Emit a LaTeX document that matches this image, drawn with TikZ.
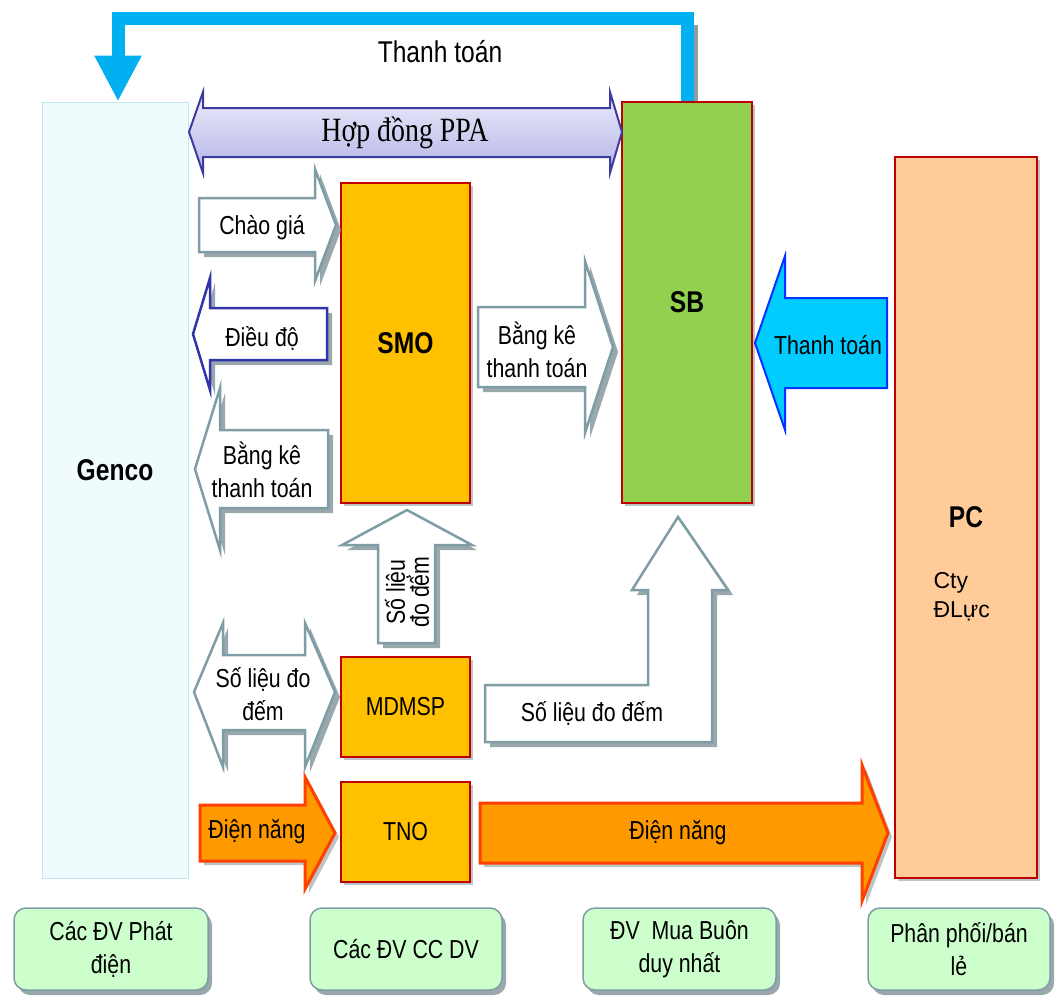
\documentclass[tikz,border=0pt]{standalone}
\usepackage{fontspec}
\setmainfont{Liberation Sans}
\newfontfamily\narrowfont[FakeStretch=0.82]{Liberation Sans}
\newfontfamily\ppafont[FakeStretch=0.82]{Liberation Serif}
\usetikzlibrary{arrows.meta,shadows}

\definecolor{boxred}{HTML}{C00000}
\definecolor{smoorange}{HTML}{FFC000}
\definecolor{sbgreen}{HTML}{92D050}
\definecolor{pcpeach}{HTML}{FFCC99}
\definecolor{gencofill}{HTML}{F0FBFD}
\definecolor{gencoline}{HTML}{C4E6EE}
\definecolor{slate}{HTML}{7F9DA5}
\definecolor{shadowgray}{HTML}{8E9EA4}
\definecolor{navy}{HTML}{3333AA}
\definecolor{payblue}{HTML}{00B0F0}
\definecolor{paycyan}{HTML}{00CCFF}
\definecolor{payedge}{HTML}{0033FF}
\definecolor{power}{HTML}{FF9900}
\definecolor{poweredge}{HTML}{FF4000}
\definecolor{unitgreen}{HTML}{CCFFCC}
\definecolor{ppalight}{HTML}{ECECFC}
\definecolor{ppadark}{HTML}{B4B4E6}
\definecolor{ppaedge}{HTML}{3C3CA0}

% block arrow lying flat: style, tail x, head base x, tip x, mid y, half body, half head
\newcommand{\hblock}[7]{%
  \path[#1] (#2,#5-#6) -- (#3,#5-#6) -- (#3,#5-#7) -- (#4,#5)
    -- (#3,#5+#7) -- (#3,#5+#6) -- (#2,#5+#6) -- cycle;}

\newcommand{\lbl}{\narrowfont\fontsize{26}{33}\selectfont}
\newcommand{\boldlbl}{\narrowfont\bfseries\fontsize{30}{34}\selectfont}

\tikzset{
  box/.style={draw=boxred, line width=1.5, inner sep=0,
    drop shadow={shadow xshift=3pt, shadow yshift=-3pt, fill=shadowgray, opacity=.6}},
  unit/.style={draw=slate, fill=unitgreen, line width=1.5, rounded corners=12,
    minimum height=82, align=center, inner sep=0, font=\lbl,
    drop shadow={shadow xshift=4pt, shadow yshift=-5pt, fill=shadowgray, opacity=.9}},
  grayarrow/.style={draw=slate, fill=white, line width=2.5, line join=miter,
    drop shadow={shadow xshift=5pt, shadow yshift=-5pt, fill=shadowgray, opacity=.9}},
  poweralong/.style={draw=poweredge, fill=power, line width=3,
    drop shadow={shadow xshift=4pt, shadow yshift=-4pt, fill=shadowgray, opacity=.6}},
  loopline/.style={draw=payblue, line width=13,
    -{Triangle[width=44pt, length=46pt]}},
}

\begin{document}
\begin{tikzpicture}[x=1pt, y=-1pt]
  \useasboundingbox (0,0) rectangle (1063,1004);

  % main boxes
  \node[draw=gencoline, fill=gencofill, line width=1, minimum width=146, minimum height=776] (genco) at (115,490) {};
  \node[box, fill=smoorange, minimum width=129, minimum height=320, font=\boldlbl] (smo) at (405.5,343) {SMO};
  \node[box, fill=sbgreen, minimum width=130, minimum height=401, font=\boldlbl] (sb) at (687,302.5) {SB};
  \node[box, fill=pcpeach, minimum width=142, minimum height=721, font=\boldlbl] (pc) at (966,517.5) {PC};
  \node[box, fill=smoorange, minimum width=129, minimum height=100, font=\lbl] (mdmsp) at (405.5,707) {MDMSP};
  \node[box, fill=smoorange, minimum width=129, minimum height=100, font=\lbl] (tno) at (405.5,832) {TNO};
  \node[font=\boldlbl] (gencolbl) at ([yshift=20]genco.center) {Genco};
  \node[font=\fontsize{23}{29}\selectfont, align=left, anchor=west] (cty) at (930,597) {Cty\\ĐLực};

  % payment loop SB -> Genco
  \draw[draw=shadowgray, line width=4] ([xshift=9]sb.north) -- ++(0,-76);
  \draw[loopline] (sb.north) -- ++(0,-83) -| ([xshift=3]genco.north);
  \node[font=\narrowfont\fontsize{30}{34}\selectfont] (paytop) at (440,52) {Thanh toán};

  % PPA contract
  \path[draw=ppaedge, line width=2, top color=ppalight, bottom color=ppadark]
    (189,132) -- (203,92) -- (203,108) -- (610,108) -- (610,92) -- (622,132)
    -- (610,173) -- (610,157) -- (203,157) -- (203,173) -- cycle;
  \node[font=\ppafont\fontsize{34}{40}\selectfont] (ppa) at (405,133) {Hợp đồng PPA};

  % Genco <-> SMO
  \hblock{grayarrow}{199}{315}{336}{225}{27}{56}
  \node[font=\lbl] (bid) at (262,228) {Chào giá};
  \hblock{grayarrow, draw=navy}{327}{210}{193}{334}{26}{56}
  \node[font=\lbl] (dispatch) at (262,338) {Điều độ};
  \hblock{grayarrow}{328}{220}{195}{469}{39}{81}
  \node[font=\lbl, align=center] (billg) at (262,470) {Bằng kê\\thanh toán};

  % SMO -> SB
  \hblock{grayarrow}{478}{585}{613}{347}{40}{86}
  \node[font=\lbl, align=center] (billsb) at (537,350) {Bằng kê\\thanh toán};

  % PC -> SB
  \hblock{draw=payedge, fill=paycyan, line width=2}{887}{785}{755}{343}{45}{87}
  \node[font=\lbl] (paypc) at (828,345) {Thanh toán};

  % metering data
  \path[grayarrow] (407,510) -- (472,545) -- (435,545) -- (435,643) -- (378,643)
    -- (378,545) -- (342,545) -- cycle;
  \node[font=\narrowfont\fontsize{26}{24}\selectfont, align=center, rotate=90] (meterup) at (407,592) {Số liệu\\đo đếm};
  \path[grayarrow] (194,692) -- (223,623) -- (223,655) -- (305,655) -- (305,623)
    -- (335,692) -- (305,767) -- (305,730) -- (223,730) -- (223,767) -- cycle;
  \node[font=\lbl, align=center] (meterg) at (263,694) {Số liệu đo\\đếm};
  \path[grayarrow] (485,685) -- (648,685) -- (648,590) -- (632,590) -- (678,517)
    -- (728,590) -- (712,590) -- (712,742) -- (485,742) -- cycle;
  \node[font=\lbl] (metersb) at (592,713) {Số liệu đo đếm};

  % energy flow
  \hblock{poweralong}{200}{305}{335}{833}{28}{56}
  \node[font=\lbl] (energyg) at (257,832) {Điện năng};
  \hblock{poweralong}{480}{862}{888}{833}{30}{68}
  \node[font=\lbl] (energypc) at (678,833) {Điện năng};

  % market participants
  \node[unit, minimum width=194] (gen) at (111,949) {Các ĐV Phát\\điện};
  \node[unit, minimum width=192] (svc) at (406,949) {Các ĐV CC DV};
  \node[unit, minimum width=193] (buyer) at (679.5,949) {ĐV~ Mua Buôn\\duy nhất};
  \node[unit, minimum width=182] (retail) at (959,949) {Phân phối/bán\\lẻ};
\end{tikzpicture}
\end{document}
